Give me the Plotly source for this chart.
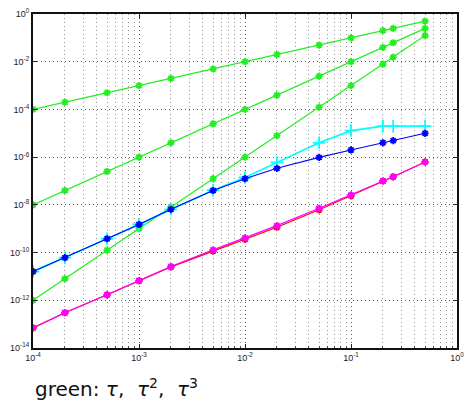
import plotly.graph_objects as go

tau = [1e-4, 2e-4, 5e-4, 1e-3, 2e-3, 5e-3, 1e-2, 2e-2, 5e-2, 1e-1, 2e-1, 2.5e-1, 5e-1]

green_1 = [1e-4, 2e-4, 5e-4, 1e-3, 2e-3, 5e-3, 1e-2, 2e-2, 5e-2, 1e-1, 2e-1, 2.5e-1, 5e-1]
green_2 = [1e-8, 4e-8, 2.5e-7, 1e-6, 4e-6, 2.5e-5, 1e-4, 4e-4, 2.5e-3, 1e-2, 4e-2, 6.25e-2, 2.5e-1]
green_3 = [1e-12, 8e-12, 1.25e-10, 1e-9, 8e-9, 1.25e-7, 1e-6, 8e-6, 1.25e-4, 1e-3, 8e-3, 1.5625e-2, 1.25e-1]
cyan_v = [1.6e-11, 6.1e-11, 3.8e-10, 1.5e-9, 6.5e-9, 4.1e-8, 1.4e-7, 6e-7, 4e-6, 1.3e-5, 2e-5, 2e-5, 2e-5]
blue_v = [1.6e-11, 6.1e-11, 3.8e-10, 1.5e-9, 6.5e-9, 4e-8, 1.25e-7, 3.4e-7, 9.8e-7, 2e-6, 4e-6, 4.9e-6, 1e-5]
magenta_v = [7e-14, 3e-13, 1.7e-12, 6.6e-12, 2.6e-11, 1.3e-10, 4.1e-10, 1.35e-9, 7.2e-9, 2.6e-8, 1e-7, 1.5e-7, 6.3e-7]
red_v = [7e-14, 3e-13, 1.7e-12, 6.6e-12, 2.5e-11, 1.15e-10, 3.6e-10, 1.15e-9, 6.2e-9, 2.4e-8, 1e-7, 1.5e-7, 6.3e-7]

x_tickvals = [1e-4, 1e-3, 1e-2, 1e-1, 1e0]
x_ticktext = ["10<sup>-4</sup>", "10<sup>-3</sup>", "10<sup>-2</sup>", "10<sup>-1</sup>", "10<sup>0</sup>"]
x_minor_vals = [m * 10.0 ** e for e in range(-4, 0) for m in range(2, 10)]
y_tickvals = [1e-14, 1e-12, 1e-10, 1e-8, 1e-6, 1e-4, 1e-2, 1e0]
y_ticktext = ["10<sup>-14</sup>", "10<sup>-12</sup>", "10<sup>-10</sup>", "10<sup>-8</sup>",
              "10<sup>-6</sup>", "10<sup>-4</sup>", "10<sup>-2</sup>", "10<sup>0</sup>"]

caption = "green: <i>τ</i>,\u00a0 <i>τ</i><sup>2</sup>,\u00a0 <i>τ</i><sup>3</sup>"

GREEN = "#22ee22"

fig = go.Figure()

def add(y, color, symbol, size=6, lw=1.2):
    fig.add_trace(go.Scatter(
        x=tau, y=y, mode="lines+markers",
        line=dict(color=color, width=lw),
        marker=dict(symbol=symbol, size=size, color=color,
                    line=dict(color=color, width=1.8)),
        showlegend=False, hoverinfo="skip"))

add(green_1, GREEN, "asterisk-open")
add(green_2, GREEN, "asterisk-open")
add(green_3, GREEN, "asterisk-open")
add(cyan_v, "#00ffff", "cross-thin-open", size=9, lw=1.8)
add(blue_v, "#0000ff", "asterisk-open", lw=1.1)
add(red_v, "#ff0000", "asterisk-open")
add(magenta_v, "#ff00ff", "asterisk-open")

# invisible helper trace to activate the minor-grid overlay axis
fig.add_trace(go.Scatter(x=[tau[0]], y=[green_1[0]], xaxis="x2", mode="markers",
                         marker=dict(opacity=0), showlegend=False, hoverinfo="skip"))

axis_font = dict(family="Liberation Sans, Arial, sans-serif", size=9, color="#222222")
MAJOR_DASH = "1px,3px"

fig.update_layout(
    xaxis=dict(
        type="log", range=[-4, 0],
        tickvals=x_tickvals, ticktext=x_ticktext, tickfont=axis_font,
        ticks="inside", ticklen=4, tickcolor="#222",
        showgrid=True, gridcolor="#555555", griddash=MAJOR_DASH, gridwidth=1,
        showline=True, linecolor="#111111", linewidth=2, mirror="ticks",
        zeroline=False, automargin=False,
    ),
    xaxis2=dict(
        type="log", range=[-4, 0], overlaying="x", side="bottom",
        tickvals=x_minor_vals, showticklabels=False,
        ticks="inside", ticklen=2, tickcolor="#444",
        showgrid=True, gridcolor="#999999", griddash=MAJOR_DASH, gridwidth=1,
        showline=False, zeroline=False, automargin=False, layer="below traces",
    ),
    yaxis=dict(
        type="log", range=[-14, 0],
        tickvals=y_tickvals, ticktext=y_ticktext, tickfont=axis_font,
        ticks="inside", ticklen=4, tickcolor="#222",
        showgrid=True, gridcolor="#555555", griddash=MAJOR_DASH, gridwidth=1,
        showline=True, linecolor="#111111", linewidth=2, mirror="ticks",
        zeroline=False, automargin=False,
    ),
    width=465, height=403,
    margin=dict(l=33, r=8, t=14, b=55),
    paper_bgcolor="white", plot_bgcolor="white",
)

fig.add_annotation(
    text=caption, xref="paper", yref="paper", x=0.0, y=-0.12,
    xanchor="left", yanchor="middle", showarrow=False,
    font=dict(family="DejaVu Sans, Verdana, sans-serif", size=20, color="#111111"),
)

fig.write_html(
    "out.html",
    config={"displayModeBar": False},
    post_script="document.body.style.margin='0px'; document.body.style.overflow='hidden';",
)
